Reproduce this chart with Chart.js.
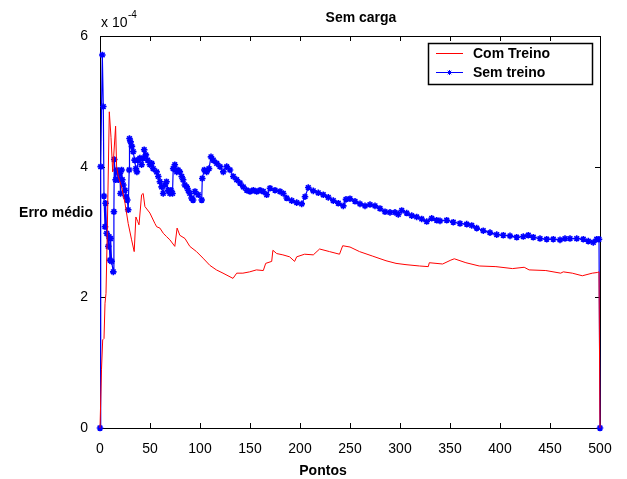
<!DOCTYPE html>
<html>
<head>
<meta charset="utf-8">
<script src="https://cdn.jsdelivr.net/npm/chart.js@4"></script>
<style>
    html, body { margin: 0; padding: 0; background: #fff; }
    #graficoContainer { width: 627px; height: 479px; }
</style>
</head>
<body>
<div id="graficoContainer">
    <canvas id="graficoErro" width="627" height="479"></canvas>
</div>
<script>
// valores em unidades de 1e-4
const pontosComTreino = [0, 1.5, 2.7, 4, 5, 6, 7.3, 9.3, 11, 12.7, 15.6, 16.6, 18.3, 21.6, 25, 28.2, 31.6, 34.2, 35.9, 37.7, 39, 41.6, 43.2, 44.9, 49.9, 54.9, 56.7, 59.9, 63.3, 66.5, 69.9, 74.8, 77.1, 79.8, 85, 89.8, 96.5, 103, 109.8, 116.4, 123, 133, 136.7, 142.9, 149.7, 156.4, 163.3, 165.7, 171.7, 172.9, 176.7, 182.9, 189.6, 194.6, 196.7, 204.6, 213.3, 219.6, 229.5, 239.5, 242.7, 250, 259.5, 272.8, 286, 296, 306, 319.4, 328.3, 329.3, 342.6, 350.9, 354.3, 365.9, 379.2, 395.9, 412.5, 424.2, 429.1, 445.8, 460.7, 463.3, 472.3, 482.3, 492.3, 497.3, 499, 500];
const erroComTreino = [0, 0.9, 1.35, 1.37, 1.91, 2.06, 3.03, 4.84, 4.45, 3.92, 4.62, 4.0, 3.85, 3.69, 3.44, 3.13, 2.88, 2.70, 3.23, 3.16, 3.11, 3.57, 3.59, 3.39, 3.29, 3.13, 3.08, 3.06, 2.98, 2.93, 2.88, 2.78, 3.06, 2.95, 2.90, 2.78, 2.70, 2.60, 2.49, 2.42, 2.37, 2.29, 2.37, 2.37, 2.39, 2.42, 2.41, 2.52, 2.55, 2.72, 2.67, 2.65, 2.62, 2.55, 2.62, 2.66, 2.65, 2.74, 2.70, 2.66, 2.79, 2.77, 2.70, 2.63, 2.56, 2.52, 2.50, 2.48, 2.47, 2.53, 2.51, 2.57, 2.59, 2.53, 2.48, 2.47, 2.44, 2.46, 2.42, 2.41, 2.37, 2.39, 2.37, 2.33, 2.37, 2.38, 2.39, 0];

const pontosSemTreino = [0, 0.7, 2.3, 3.3, 4, 5, 5.6, 6.7, 8.3, 9, 10, 10.6, 11.6, 13.3, 13.9, 14.3, 15.6, 16.6, 18.3, 19.9, 20.5, 21.6, 22.3, 23.3, 25, 25.9, 27.3, 28.2, 29.2, 29.5, 30.6, 31.9, 33.2, 34.6, 35.9, 36.9, 38.2, 39.9, 41.6, 43.2, 44.2, 45.9, 47.6, 49.9, 51.7, 53.2, 56.6, 58.3, 59.9, 61.6, 63.2, 64.9, 66.5, 68.2, 69.9, 71, 72.5, 73.2, 74.8, 76.7, 78.1, 79.8, 81.7, 83.1, 84.8, 86.7, 88.1, 89.8, 91.5, 93.1, 95, 98.3, 101.7, 102.3, 104.3, 106.7, 109, 111, 113.3, 116.7, 120, 123.3, 126.7, 130, 133.3, 136.7, 140, 143.3, 146.7, 150, 153.3, 156.7, 160, 163.3, 166.7, 170, 175, 180, 183.3, 186.7, 191.7, 196.7, 201.7, 205, 208.3, 213.3, 218.3, 223.3, 228.3, 233.3, 238.3, 243.3, 246, 250, 255, 260, 265, 270, 275, 280, 285, 290, 295, 298.3, 301.7, 306.7, 311.7, 316.7, 321.7, 326.7, 331.7, 336.7, 340, 346.7, 353.3, 360, 366.7, 371.7, 376.7, 383.3, 390, 396.7, 403.3, 410, 416.7, 423.3, 428.3, 433.3, 440, 446.7, 453.3, 460, 465, 470, 476.7, 483.3, 488.3, 493.3, 496.7, 499, 500];
const erroSemTreino = [0, 4.0, 5.71, 4.92, 3.55, 3.08, 3.44, 2.98, 2.78, 2.93, 2.57, 2.90, 2.55, 2.39, 3.31, 4.11, 3.80, 3.95, 3.80, 3.90, 3.59, 3.95, 3.80, 3.72, 3.64, 3.54, 3.49, 3.34, 3.95, 4.43, 4.38, 4.31, 4.23, 4.10, 3.97, 3.92, 4.10, 4.13, 4.03, 4.13, 4.26, 4.18, 4.10, 4.03, 4.05, 3.97, 3.92, 3.85, 3.77, 3.69, 3.59, 3.72, 3.77, 3.64, 3.59, 3.64, 3.59, 3.97, 4.03, 3.92, 3.95, 3.92, 3.85, 3.80, 3.72, 3.69, 3.64, 3.59, 3.52, 3.49, 3.62, 3.57, 3.49, 3.82, 3.95, 3.92, 3.97, 4.15, 4.10, 4.05, 4.0, 3.92, 4.0, 3.95, 3.85, 3.80, 3.75, 3.69, 3.64, 3.62, 3.64, 3.62, 3.64, 3.62, 3.57, 3.67, 3.64, 3.62, 3.59, 3.52, 3.48, 3.45, 3.43, 3.54, 3.68, 3.63, 3.60, 3.57, 3.53, 3.48, 3.44, 3.40, 3.50, 3.51, 3.47, 3.43, 3.40, 3.42, 3.40, 3.36, 3.31, 3.30, 3.30, 3.27, 3.33, 3.29, 3.25, 3.23, 3.20, 3.16, 3.21, 3.18, 3.17, 3.18, 3.15, 3.13, 3.12, 3.10, 3.06, 3.02, 2.99, 2.96, 2.95, 2.94, 2.92, 2.93, 2.95, 2.92, 2.90, 2.89, 2.89, 2.88, 2.90, 2.90, 2.90, 2.89, 2.86, 2.84, 2.89, 2.89, 0];

const ticksX = [0, 50, 100, 150, 200, 250, 300, 350, 400, 450, 500];
const ticksY = [0, 2, 4, 6];
const nomesSeries = ['Com Treino', 'Sem treino'];

const fonte = '"Liberation Sans", Arial, Helvetica, sans-serif';

function juntar(xs, ys) {
    return xs.map((x, i) => ({ x: x, y: ys[i] }));
}

// moldura, ticks para dentro, titulos e legenda estilo matlab
const estiloMatlab = {
    id: 'estiloMatlab',
    beforeDatasetsDraw(chart) {
        const ctx = chart.ctx;
        const a = chart.chartArea;
        const sx = chart.scales.x, sy = chart.scales.y;
        ctx.save();
        ctx.strokeStyle = '#000';
        ctx.lineWidth = 1;
        ctx.beginPath();
        ticksX.forEach(v => {
            const px = Math.round(sx.getPixelForValue(v)) + 0.5;
            ctx.moveTo(px, a.bottom); ctx.lineTo(px, a.bottom - 5);
            ctx.moveTo(px, a.top); ctx.lineTo(px, a.top + 5);
        });
        ticksY.forEach(v => {
            const py = Math.round(sy.getPixelForValue(v)) + 0.5;
            ctx.moveTo(a.left, py); ctx.lineTo(a.left + 5, py);
            ctx.moveTo(a.right, py); ctx.lineTo(a.right - 5, py);
        });
        ctx.stroke();
        ctx.strokeRect(Math.round(a.left) + 0.5, Math.round(a.top) + 0.5,
            Math.round(a.right - a.left), Math.round(a.bottom - a.top));
        ctx.restore();
    },
    afterDraw(chart) {
        const ctx = chart.ctx;
        ctx.save();
        ctx.fillStyle = '#000';
        ctx.textBaseline = 'middle';

        ctx.font = 'bold 14px ' + fonte;
        ctx.textAlign = 'center';
        ctx.fillText('Sem carga', 361, 18);
        ctx.fillText('Pontos', 323, 471);
        ctx.fillText('Erro médio', 56, 213);

        ctx.textAlign = 'left';
        ctx.font = '14px ' + fonte;
        ctx.fillText('x 10', 101, 23);
        ctx.font = '10px ' + fonte;
        ctx.fillText('-4', 128, 15);

        // legenda
        ctx.fillStyle = '#fff';
        ctx.fillRect(428, 43, 165, 42);
        ctx.strokeStyle = '#000';
        ctx.lineWidth = 1.5;
        ctx.strokeRect(428.5, 43.5, 164, 41);
        ctx.lineWidth = 1;
        const cores = ['#ff0000', '#0000ff'];
        const ys = [53.5, 72.5];
        nomesSeries.forEach((nome, i) => {
            ctx.strokeStyle = cores[i];
            ctx.beginPath();
            ctx.moveTo(436, ys[i]); ctx.lineTo(463, ys[i]);
            ctx.stroke();
            if (i === 1) {
                Chart.helpers.drawPoint(ctx, { pointStyle: 'star', radius: 2.5, borderWidth: 1.5 }, 449.5, ys[i]);
            }
            ctx.fillStyle = '#000';
            ctx.font = 'bold 14px ' + fonte;
            ctx.fillText(nome, 473, ys[i] + 1);
        });
        ctx.restore();
    }
};

const ctx = document.getElementById('graficoErro').getContext('2d');

const chart = new Chart(ctx, {
    type: 'line',
    data: {
        datasets: [
            {
                label: nomesSeries[0],
                data: juntar(pontosComTreino, erroComTreino),
                borderColor: '#ff0000',
                borderWidth: 1,
                pointRadius: 0,
                tension: 0,
                clip: 6
            },
            {
                label: nomesSeries[1],
                data: juntar(pontosSemTreino, erroSemTreino),
                borderColor: '#0000ff',
                borderWidth: 1.2,
                pointStyle: 'star',
                pointRadius: 3.3,
                pointBorderWidth: 1.6,
                pointBorderColor: '#0000ff',
                pointBackgroundColor: '#0000ff',
                tension: 0,
                clip: 6
            }
        ]
    },
    options: {
        responsive: false,
        animation: false,
        layout: { padding: { top: 36, right: 27, left: 0, bottom: 0 } },
        plugins: {
            legend: { display: false },
            tooltip: { enabled: false }
        },
        scales: {
            x: {
                type: 'linear',
                min: 0,
                max: 500,
                afterFit: s => { s.height = 51; },
                afterBuildTicks: s => { s.ticks = ticksX.map(v => ({ value: v })); },
                grid: { display: false },
                border: { display: false },
                ticks: {
                    color: '#000',
                    padding: 5,
                    maxRotation: 0,
                    font: { size: 14, family: fonte }
                }
            },
            y: {
                type: 'linear',
                min: 0,
                max: 6,
                afterFit: s => { s.width = 100; },
                afterBuildTicks: s => { s.ticks = ticksY.map(v => ({ value: v })); },
                grid: { display: false },
                border: { display: false },
                ticks: {
                    color: '#000',
                    padding: 4,
                    font: { size: 14, family: fonte }
                }
            }
        }
    },
    plugins: [estiloMatlab]
});
</script>
</body>
</html>
